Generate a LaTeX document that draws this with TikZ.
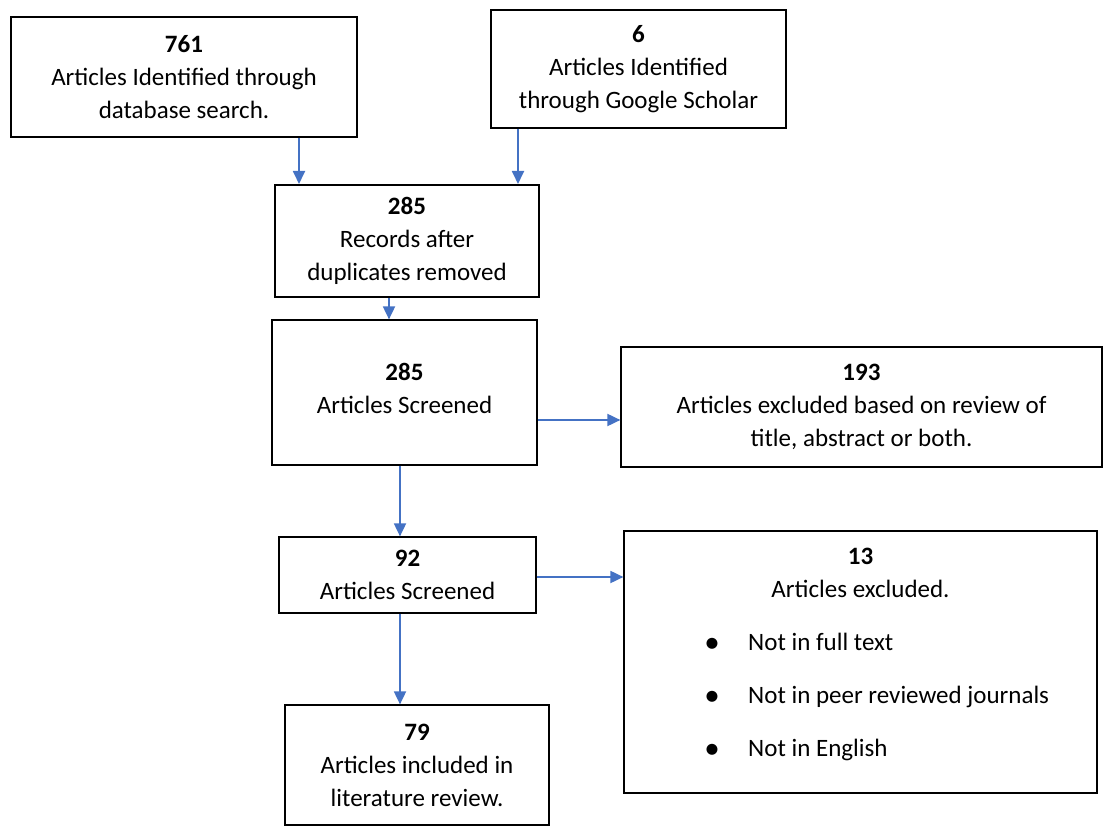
\documentclass[tikz,border=0pt]{standalone}
\usepackage{fontspec}
\setmainfont{Carlito}
\usetikzlibrary{arrows.meta,positioning}
\definecolor{arrowblue}{HTML}{4472C4}

\begin{document}
\begin{tikzpicture}[
x=1pt, y=-1pt,
box/.style={rectangle, draw=black, line width=1.2pt, align=center, inner sep=0pt, font=\fontsize{25}{33}\selectfont},
txt/.style={inner sep=0pt, font=\fontsize{25}{33}\selectfont},
flow/.style={-{Triangle[length=13pt, width=12pt]}, line width=1.8pt, draw=arrowblue},
]
\useasboundingbox (0,0) rectangle (1104,826);
%Nodes
\node[box, minimum width=346pt, minimum height=120pt] (search) at (184,77) {\textbf{761}\\Articles Identified through\\database search.};
\node[box, minimum width=295pt, minimum height=118pt] (scholar) at (638.5,69) {\textbf{6}\\Articles Identified\\through Google Scholar};
\node[box, line width=2pt, minimum width=264pt, minimum height=112pt] (dupes) at (407,241) {\textbf{285}\\Records after\\duplicates removed};
\node[box, minimum width=265pt, minimum height=145pt] (screen) at (404.5,392.5) {\textbf{285}\\Articles Screened\\[-25pt]};
\node[box, minimum width=481pt, minimum height=120pt] (excl) at (861.5,407) {\textbf{193}\\Articles excluded based on review of\\title, abstract or both.};
\node[box, minimum width=257pt, minimum height=76pt] (fulltext) at (407.5,575) {\textbf{92}\\Articles Screened};
\node[box, minimum width=473pt, minimum height=262pt] (excltwo) at (860.5,662) {};
\node[box, minimum width=264pt, minimum height=120pt] (incl) at (417,765) {\textbf{79}\\Articles included in\\literature review.};

%Text of the second exclusion box
\node[txt, anchor=base] (excltitle) at (860.5,564) {\textbf{13}};
\node[txt, anchor=base] (exclsub) at (860.5,597) {Articles excluded.};
\foreach \reason [count=\i] in {Not in full text, Not in peer reviewed journals, Not in English} {
  \node[txt, anchor=base] (dot\i) at (712,{599+53*\i}) {\fontsize{31}{31}\selectfont\textbullet};
  \node[txt, anchor=base west] (reason\i) at (748,{597+53*\i}) {\reason};
}

%Lines
\coordinate (ac) at (299,0);
\coordinate (bc) at (518,0);
\coordinate (cd) at (389,0);
\coordinate (de) at (0,420);
\coordinate (df) at (400,0);
\coordinate (fg) at (0,577);
\draw[flow] (ac |- search.south) -- (ac |- dupes.north);
\draw[flow] (bc |- scholar.south) -- (bc |- dupes.north);
\draw[flow] (cd |- dupes.south) -- (cd |- screen.north);
\draw[flow] (screen.east |- de) -- (excl.west |- de);
\draw[flow] (df |- screen.south) -- (df |- fulltext.north);
\draw[flow] (fulltext.east |- fg) -- (excltwo.west |- fg);
\draw[flow] (df |- fulltext.south) -- (df |- incl.north);

\end{tikzpicture}
\end{document}
